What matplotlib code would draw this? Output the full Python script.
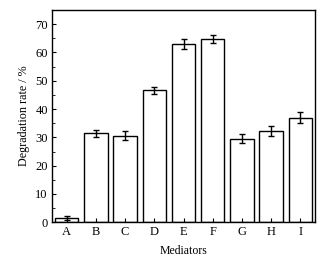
import matplotlib.pyplot as plt
from matplotlib.ticker import MultipleLocator

plt.rcParams['font.family'] = ['Liberation Serif', 'DejaVu Serif']

# Data
mediators = ['A', 'B', 'C', 'D', 'E', 'F', 'G', 'H', 'I']
rates = [1.4, 31.5, 30.6, 46.7, 63.0, 64.7, 29.5, 32.3, 37.0]
errors = [0.7, 1.2, 1.7, 1.2, 1.8, 1.3, 1.6, 1.7, 2.0]

fig = plt.figure(figsize=(3.34, 2.59), dpi=100)
ax = fig.add_axes([52 / 334, 1 - 222.3 / 259, 263 / 334, 212.3 / 259])

x = range(len(mediators))
ax.bar(x, rates, width=0.8, color='white', edgecolor='black', linewidth=1.0,
       yerr=errors, capsize=2, error_kw=dict(elinewidth=1.0, capthick=1.0, ecolor='black'))

ax.set_xlim(-0.5, 8.5)
ax.set_ylim(0, 75)
ax.set_xticks(list(x))
ax.set_xticklabels(mediators)
ax.yaxis.set_major_locator(MultipleLocator(10))
ax.yaxis.set_minor_locator(MultipleLocator(5))
ax.tick_params(axis='both', which='both', direction='in', labelsize=9, pad=3)
ax.tick_params(axis='y', which='major', length=3)
ax.tick_params(axis='y', which='minor', length=2)
ax.tick_params(axis='x', length=3)
for s in ax.spines.values():
    s.set_linewidth(1.0)

ax.set_xlabel('Mediators', fontsize=8.5, labelpad=5)
ax.set_ylabel('Degradation rate / %', fontsize=8.7, labelpad=4)

fig.savefig('out.png', dpi=100)
